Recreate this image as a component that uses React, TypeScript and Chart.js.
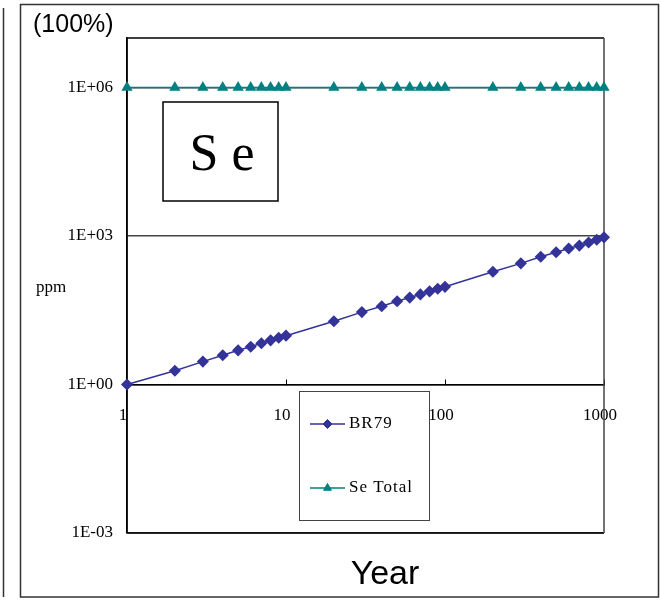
import React, { useEffect, useRef } from 'react';
import { Chart, registerables } from 'chart.js';
import { drawPoint } from 'chart.js/helpers';

Chart.register(...registerables);

const years = [1, 2, 3, 4, 5, 6, 7, 8, 9, 10, 20, 30, 40, 50, 60, 70, 80, 90, 100, 200, 300, 400, 500, 600, 700, 800, 900, 1000];
const br79Values = [1, 1.9, 2.9, 3.9, 4.9, 5.8, 6.8, 7.8, 8.8, 9.7, 19, 29, 38, 48, 57, 66, 76, 86, 94, 190, 280, 380, 470, 560, 640, 740, 840, 940];
const seTotalValues = [
  1000000, 1000000, 1000000, 1000000, 1000000, 1000000, 1000000, 1000000, 1000000, 1000000,
  1000000, 1000000, 1000000, 1000000, 1000000, 1000000, 1000000, 1000000, 1000000,
  1000000, 1000000, 1000000, 1000000, 1000000, 1000000, 1000000, 1000000, 1000000,
];
const seriesNames = ['BR79', 'Se Total'];
const xTickValues = [1, 10, 100, 1000];
const xTickLabels = ['1', '10', '100', '1000'];
const yTickValues = [1e-3, 1, 1e3, 1e6];
const yTickLabels = ['1E-03', '1E+00', '1E+03', '1E+06'];
const yAxisLabel = 'ppm';
const xAxisLabel = 'Year';
const cornerLabel = '(100%)';
const elementLabel = 'S e';

const SERIF = '"Liberation Serif", "DejaVu Serif", serif';
const SANS = '"Liberation Sans", Arial, sans-serif';

const decorPlugin = {
  id: 'decor',
  beforeDraw(chart: any) {
    const ctx = chart.ctx;
    ctx.save();
    ctx.fillStyle = '#fff';
    ctx.fillRect(0, 0, chart.width, chart.height);
    ctx.strokeStyle = '#333';
    ctx.lineWidth = 1.5;
    ctx.strokeRect(20.5, 4.5, 638, 592.5);
    ctx.beginPath();
    ctx.moveTo(3.5, 8);
    ctx.lineTo(3.5, 597);
    ctx.stroke();
    ctx.restore();
  },
  beforeDatasetsDraw(chart: any) {
    const ctx = chart.ctx;
    const { left, top, right, bottom } = chart.chartArea;
    ctx.save();
    ctx.lineWidth = 1.5;
    ctx.strokeStyle = '#000';
    ctx.beginPath();
    ctx.moveTo(left, top);
    ctx.lineTo(right, top);
    ctx.moveTo(left, bottom);
    ctx.lineTo(right, bottom);
    ctx.moveTo(left, top);
    ctx.lineTo(left, bottom);
    ctx.stroke();
    ctx.strokeStyle = '#444';
    ctx.beginPath();
    ctx.moveTo(right, top);
    ctx.lineTo(right, bottom);
    ctx.stroke();

    // element box
    ctx.fillStyle = '#fff';
    ctx.fillRect(163, 102, 115, 99);
    ctx.strokeStyle = '#000';
    ctx.lineWidth = 1.5;
    ctx.strokeRect(163, 102, 115, 99);
    ctx.fillStyle = '#000';
    ctx.font = `52px ${SERIF}`;
    ctx.textAlign = 'center';
    ctx.textBaseline = 'alphabetic';
    ctx.fillText(elementLabel, 222, 170);
    ctx.restore();
  },
  afterDraw(chart: any) {
    const ctx = chart.ctx;
    ctx.save();
    // legend
    const bx = 299, by = 391, bw = 130, bh = 129;
    ctx.fillStyle = '#fff';
    ctx.fillRect(bx, by, bw, bh);
    ctx.strokeStyle = '#444';
    ctx.lineWidth = 1;
    ctx.strokeRect(bx + 0.5, by + 0.5, bw, bh);
    const rows = [424, 488];
    chart.data.datasets.forEach((ds: any, i: number) => {
      const y = rows[i];
      ctx.strokeStyle = ds.borderColor;
      ctx.lineWidth = 1.5;
      ctx.beginPath();
      ctx.moveTo(310, y);
      ctx.lineTo(345, y);
      ctx.stroke();
      ctx.fillStyle = ds.pointBackgroundColor;
      ctx.strokeStyle = ds.borderColor;
      ctx.lineWidth = 1;
      drawPoint(ctx, { pointStyle: ds.pointStyle, radius: 4.5, rotation: 0, borderWidth: 1 } as any, 327.5, y);
      ctx.fillStyle = '#000';
      ctx.font = `17px ${SERIF}`;
      ctx.textAlign = 'left';
      ctx.textBaseline = 'middle';
      try { (ctx as any).letterSpacing = '1px'; } catch (e) { /* ignore */ }
      ctx.fillText(ds.label, 349, y);
      try { (ctx as any).letterSpacing = '0px'; } catch (e) { /* ignore */ }
    });

    // texts
    ctx.fillStyle = '#000';
    ctx.font = `25px ${SANS}`;
    ctx.textAlign = 'left';
    ctx.textBaseline = 'middle';
    ctx.fillText(cornerLabel, 33, 25);

    ctx.font = `17px ${SERIF}`;
    ctx.fillText(yAxisLabel, 36, 288);

    ctx.font = `34px ${SANS}`;
    ctx.textAlign = 'center';
    ctx.textBaseline = 'alphabetic';
    ctx.fillText(xAxisLabel, 385, 584);
    ctx.restore();
  },
};

export default function App() {
  const ref = useRef<HTMLCanvasElement>(null);

  useEffect(() => {
    if (!ref.current) return;
    const chart = new Chart(ref.current, {
      type: 'line',
      data: {
        datasets: [
          {
            label: seriesNames[0],
            data: years.map((x, i) => ({ x, y: br79Values[i] })),
            borderColor: '#333399',
            backgroundColor: '#333399',
            pointBackgroundColor: '#333399',
            pointBorderColor: '#333399',
            pointStyle: 'rectRot',
            pointRadius: 5,
            borderWidth: 1.5,
            tension: 0,
            clip: false,
          },
          {
            label: seriesNames[1],
            data: years.map((x, i) => ({ x, y: seTotalValues[i] })),
            borderColor: '#008080',
            backgroundColor: '#008080',
            pointBackgroundColor: '#008080',
            pointBorderColor: '#008080',
            pointStyle: 'triangle',
            pointRadius: 5,
            borderWidth: 1.5,
            tension: 0,
            clip: false,
          },
        ] as any,
      },
      options: {
        responsive: false,
        animation: false,
        events: [],
        layout: { padding: { left: 0, top: 38, right: 57, bottom: 67 } },
        plugins: {
          legend: { display: false },
          tooltip: { enabled: false },
          title: { display: false },
        },
        scales: {
          x: {
            type: 'logarithmic',
            min: 1,
            max: 1000,
            position: { y: 1 } as any,
            afterBuildTicks: (s: any) => {
              s.ticks = xTickValues.map((v) => ({ value: v }));
            },
            ticks: {
              callback: (_v: any, i: number) => xTickLabels[i],
              font: { family: SERIF, size: 17 },
              color: '#000',
              padding: 27,
              labelOffset: -4,
              maxRotation: 0,
              autoSkip: false,
            },
            grid: {
              drawOnChartArea: false,
              drawTicks: true,
              tickLength: -6,
              color: '#000',
              lineWidth: 1,
            },
            border: { display: true, color: '#000', width: 1.5 },
          },
          y: {
            type: 'logarithmic',
            min: 1e-3,
            max: 1e7,
            afterBuildTicks: (s: any) => {
              s.ticks = yTickValues.map((v) => ({ value: v }));
            },
            afterFit: (s: any) => {
              s.width = 127;
            },
            ticks: {
              callback: (_v: any, i: number) => yTickLabels[i],
              font: { family: SERIF, size: 17 },
              color: '#000',
              padding: 14,
              autoSkip: false,
            },
            grid: {
              drawTicks: false,
              color: '#444',
              lineWidth: 1.5,
            },
            border: { display: true, color: '#000', width: 1.5 },
          },
        },
      } as any,
      plugins: [decorPlugin],
    });
    return () => chart.destroy();
  }, []);

  return (
    <div style={{ position: 'absolute', left: 0, top: 0, width: 661, height: 600 }}>
      <canvas ref={ref} width={661} height={600} style={{ width: 661, height: 600, display: 'block' }} />
    </div>
  );
}
